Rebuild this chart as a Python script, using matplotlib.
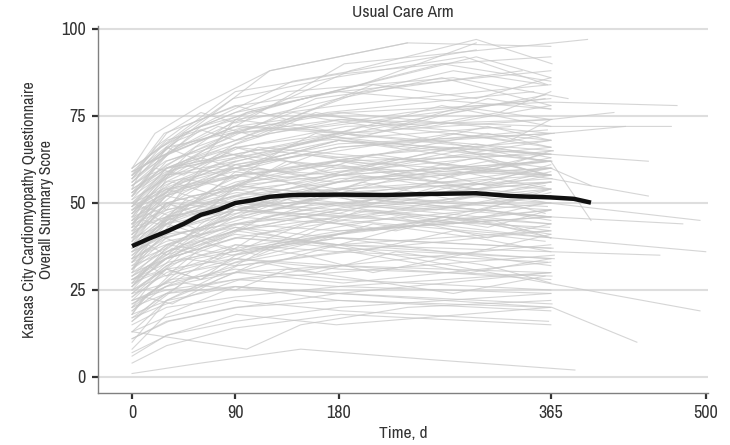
import matplotlib
matplotlib.use('Agg')
import matplotlib.pyplot as plt

plt.rcParams['font.family'] = ['Archivo Narrow', 'Lato', 'DejaVu Sans']

# follow-up visit days and KCCQ overall summary scores, one list per patient
visit_days = [
    [0, 30, 88, 175, 290, 362], [0, 35, 95, 190, 300, 366], [0, 28, 92, 180, 365],
    [0, 32, 90, 185, 368, 397], [0, 30, 85, 170, 360], [0, 29, 91, 182, 365, 470],
    [0, 31, 89, 178, 366], [0, 30, 93, 185, 364, 475], [0, 27, 90, 180, 362],
    [0, 30, 90, 176, 365], [0, 34, 92, 183, 367], [0, 30, 87, 179, 365],
    [0, 31, 90, 181, 363, 495], [0, 29, 94, 186, 366], [0, 30, 90, 180, 365],
    [0, 33, 88, 177, 361], [0, 30, 91, 184, 365], [0, 28, 90, 180, 368],
    [0, 30, 92, 182, 364], [0, 32, 89, 179, 365], [0, 30, 90, 181, 366],
    [0, 29, 93, 183, 362], [0, 31, 90, 178, 365], [0, 30, 87, 185, 367],
    [0, 30, 90, 180, 365, 500], [0, 34, 91, 182, 363], [0, 30, 90, 176, 365],
    [0, 27, 94, 184, 366], [0, 30, 90, 180, 364], [0, 31, 88, 181, 365],
    [0, 30, 92, 183, 368], [0, 29, 90, 179, 362, 495], [0, 32, 91, 182, 365],
    [0, 30, 89, 180, 366], [0, 30, 90, 185, 365], [0, 28, 93, 178, 363],
    [0, 31, 90, 181, 365], [0, 30, 87, 183, 367], [0, 30, 90, 180, 364],
    [0, 33, 92, 184, 365], [0, 30, 90, 179, 366, 440], [0, 29, 91, 182, 362],
    [0, 31, 89, 180, 365], [0, 30, 94, 176, 368], [0, 30, 90, 181, 365],
    [0, 28, 90, 183, 363], [0, 32, 92, 180, 366], [0, 60, 147, 260, 386],
    [0, 30, 88, 182, 365], [0, 31, 91, 178, 364], [0, 100, 147, 240, 365],
    [0, 45, 120, 240, 365], [0, 40, 110, 250, 365], [0, 50, 130, 260, 365],
    [0, 45, 125, 270, 365], [0, 42, 115, 230, 365], [0, 48, 120, 240, 365],
    [0, 45, 135, 280, 380], [0, 40, 100, 200, 300, 365], [0, 35, 100, 210, 320, 365],
    [0, 38, 105, 220, 330, 365], [0, 36, 100, 215, 310, 365], [0, 40, 95, 205, 300, 365],
    [0, 30, 90, 200, 290, 365], [0, 32, 94, 210, 305, 365], [0, 35, 98, 195, 315, 365],
    [0, 30, 92, 190, 295, 365], [0, 20, 60, 120, 240], [0, 25, 70, 140, 300],
    [0, 30, 80, 160, 340], [0, 30, 85, 170, 350], [0, 28, 80, 165, 330],
    [0, 30, 90], [0, 31, 89, 180], [0, 29, 92],
    [0, 30, 90, 181], [0, 28, 88, 182], [0, 30, 90, 180, 365, 450],
    [0, 30, 90, 180, 365, 480], [0, 30, 90, 180, 365, 460], [0, 30, 90, 180, 365, 430],
    [0, 30, 90, 180, 365, 400], [0, 30, 90, 180, 365], [0, 30, 90, 180, 365],
    [0, 30, 90, 180, 365], [0, 30, 90, 180, 365], [0, 30, 90, 180, 365],
    [0, 30, 90, 180, 365], [0, 30, 90, 180, 365], [0, 30, 90, 180, 365],
    [0, 30, 90, 180, 365], [0, 30, 90, 180, 365], [0, 30, 90, 180, 365],
    [0, 30, 90, 180, 365], [0, 30, 90, 180, 365], [0, 30, 90, 180, 365],
    [0, 30, 90, 180, 365], [0, 30, 90, 180, 365], [0, 30, 90, 180, 365],
    [0, 30, 90, 180, 365], [0, 30, 90, 180, 365], [0, 30, 90, 180, 365],
    [0, 60, 150, 270, 365],
    [0, 55, 140, 260, 365], [0, 65, 160, 280, 365], [0, 50, 150, 250, 365],
    [0, 60, 145, 265, 365], [0, 55, 155, 275, 365], [0, 14, 45, 90, 180, 365],
    [0, 14, 45, 90, 180, 365], [0, 14, 45, 90, 180, 365], [0, 14, 45, 90, 180, 365],
    [0, 14, 45, 90, 180, 365], [0, 14, 45, 90, 180, 365], [0, 14, 45, 90, 180, 365],
    [0, 90, 180, 270, 365], [0, 120, 240, 365], [0, 100, 200, 300],
    [0, 30, 90, 180, 365], [0, 30, 90, 180, 365],
    [0, 14, 30, 60, 90, 180, 270, 365], [0, 14, 30, 60, 90, 180, 270, 365],
    [0, 14, 30, 60, 90, 180, 270, 365], [0, 14, 30, 60, 90, 180, 270, 365],
    [0, 14, 30, 60, 90, 180, 270, 365], [0, 14, 30, 60, 90, 180, 270, 365],
    [0, 14, 30, 60, 90, 180, 270, 365], [0, 14, 30, 60, 90, 180, 270, 365],
    [0, 14, 30, 60, 90, 180, 270, 365], [0, 14, 30, 60, 90, 180, 270, 365],
    [0, 20, 45, 90, 135, 200, 280, 360], [0, 20, 45, 90, 135, 200, 280, 360],
    [0, 20, 45, 90, 135, 200, 280, 360], [0, 20, 45, 90, 135, 200, 280, 360],
    [0, 20, 45, 90, 135, 200, 280, 360], [0, 20, 45, 90, 135, 200, 280, 360],
    [0, 20, 45, 90, 135, 200, 280, 360], [0, 20, 45, 90, 135, 200, 280, 360],
    [0, 20, 45, 90, 135, 200, 280, 360], [0, 20, 45, 90, 135, 200, 280, 360],
    [0, 10, 35, 75, 110, 160, 230, 310, 365], [0, 10, 35, 75, 110, 160, 230, 310, 365],
    [0, 10, 35, 75, 110, 160, 230, 310, 365], [0, 10, 35, 75, 110, 160, 230, 310, 365],
    [0, 10, 35, 75, 110, 160, 230, 310, 365], [0, 10, 35, 75, 110, 160, 230, 310, 365],
    [0, 10, 35, 75, 110, 160, 230, 310, 365], [0, 10, 35, 75, 110, 160, 230, 310, 365],
    [0, 10, 35, 75, 110, 160, 230, 310, 365], [0, 10, 35, 75, 110, 160, 230, 310, 365],
    [0, 30, 60, 90, 150, 210, 300, 365, 420], [0, 30, 60, 90, 150, 210, 300, 365, 450],
    [0, 30, 60, 90, 150, 210, 300, 365, 400], [0, 30, 60, 90, 150, 210, 300, 365],
    [0, 30, 60, 90, 150, 210, 300, 365], [0, 30, 60, 90, 150, 210, 300, 365],
    [0, 30, 60, 90, 150, 210, 300, 365], [0, 30, 60, 90, 150, 210, 300, 365],
    [0, 30, 60, 90, 150, 210, 300, 365], [0, 30, 60, 90, 150, 210, 300, 365],
]
kccq_scores = [
    [60, 67, 80, 86, 92, 84], [59, 65, 74, 88, 97, 90], [58, 70, 78, 82, 77],
    [57, 64, 72, 90, 96, 97], [56, 66, 70, 72, 80], [55, 62, 68, 74, 72, 72],
    [54, 60, 64, 69, 62], [53, 61, 71, 76, 79, 78], [52, 58, 60, 66, 71],
    [51, 57, 66, 63, 68], [50, 55, 62, 70, 65], [49, 60, 64, 60, 58],
    [48, 53, 58, 61, 50, 45], [47, 56, 66, 72, 74], [46, 50, 55, 58, 54],
    [45, 54, 59, 56, 62], [44, 48, 53, 50, 46], [43, 52, 61, 67, 70],
    [42, 46, 50, 54, 58], [41, 50, 48, 45, 52], [40, 44, 51, 57, 60],
    [39, 47, 55, 52, 49], [38, 42, 47, 50, 44], [37, 45, 52, 59, 65],
    [36, 41, 44, 47, 40, 36], [35, 46, 50, 48, 54], [34, 39, 43, 40, 37],
    [33, 40, 46, 53, 57], [32, 36, 42, 46, 43], [31, 38, 35, 41, 48],
    [30, 34, 40, 37, 34], [29, 35, 41, 38, 27, 19], [28, 33, 37, 42, 46],
    [27, 31, 34, 31, 29], [26, 34, 40, 45, 40], [25, 29, 33, 38, 42],
    [24, 27, 31, 28, 25], [23, 30, 36, 40, 37], [22, 25, 28, 32, 30],
    [21, 28, 30, 27, 33], [20, 24, 26, 24, 20, 10], [19, 26, 32, 36, 33],
    [18, 22, 26, 22, 19], [17, 21, 28, 30, 35], [15, 20, 23, 26, 24],
    [13, 17, 22, 19, 16], [11, 16, 20, 24, 21], [1, 4, 8, 5, 2],
    [4, 9, 14, 18, 15], [7, 12, 18, 15, 20], [13, 8, 15, 20, 22],
    [50, 62, 70, 76, 80], [44, 56, 66, 62, 68], [38, 50, 60, 66, 64],
    [30, 40, 52, 58, 62], [22, 35, 46, 52, 56], [16, 28, 38, 44, 48],
    [56, 70, 82, 86, 80], [58, 68, 76, 84, 92, 86], [53, 66, 72, 70, 76, 82],
    [47, 60, 64, 72, 68, 74], [42, 54, 58, 64, 70, 66], [37, 48, 56, 60, 54, 58],
    [31, 42, 48, 46, 52, 50], [26, 38, 44, 50, 48, 54], [19, 30, 36, 42, 45, 40],
    [13, 22, 32, 36, 30, 34], [60, 70, 78, 88, 96], [57, 66, 74, 85, 94],
    [51, 62, 68, 80, 88], [46, 58, 70, 76, 82], [41, 55, 62, 68, 72],
    [48, 58, 62], [52, 64, 72, 70], [40, 52, 58],
    [34, 45, 50, 56], [26, 34, 42, 48], [50, 60, 66, 70, 64, 62],
    [33, 44, 48, 52, 46, 44], [28, 34, 40, 38, 36, 35], [44, 52, 60, 66, 70, 72],
    [48, 56, 60, 68, 62, 45], [39, 50, 55, 52, 60], [43, 46, 50, 58, 62],
    [47, 52, 48, 54, 56], [49, 54, 58, 62, 64], [34, 40, 46, 44, 50],
    [29, 38, 44, 50, 56], [24, 32, 38, 36, 42], [21, 26, 30, 32, 28],
    [17, 24, 28, 26, 30], [11, 16, 20, 22, 20], [6, 12, 16, 20, 24],
    [53, 59, 64, 70, 74], [56, 64, 72, 76, 70], [59, 68, 74, 78, 84],
    [45, 54, 62, 68, 64], [41, 48, 52, 56, 60], [37, 44, 54, 60, 66],
    [35, 42, 48, 52, 46], [31, 40, 46, 52, 48], [27, 36, 44, 42, 46],
    [55, 72, 80, 90, 85], [49, 66, 76, 72, 78], [43, 60, 64, 70, 66],
    [36, 52, 56, 62, 58], [28, 42, 50, 48, 54], [20, 34, 40, 46, 42],
    [52, 58, 62, 70, 74, 68], [44, 50, 56, 60, 58, 62], [38, 42, 50, 56, 62, 58],
    [32, 36, 40, 48, 46, 52], [25, 30, 38, 42, 48, 44], [18, 24, 30, 34, 32, 38],
    [57, 62, 70, 76, 82, 88], [60, 82, 87, 90, 92], [58, 88, 96, 95],
    [54, 76, 84, 96], [10, 22, 30, 38, 34], [8, 18, 26, 24, 30],
    [45, 52, 48, 60, 66, 58, 64, 70], [38, 44, 50, 46, 55, 62, 57, 63],
    [30, 38, 35, 44, 50, 47, 55, 52], [55, 58, 66, 62, 74, 70, 78, 72],
    [50, 48, 57, 63, 60, 68, 64, 60], [42, 47, 44, 52, 58, 54, 50, 56],
    [34, 40, 46, 42, 48, 56, 60, 54], [26, 32, 29, 37, 42, 38, 46, 41],
    [20, 26, 31, 28, 35, 40, 36, 32], [58, 63, 70, 76, 73, 80, 86, 78],
    [47, 55, 61, 57, 66, 72, 67, 62], [40, 46, 53, 60, 56, 50, 58, 64],
    [33, 41, 38, 46, 52, 58, 54, 47], [28, 30, 37, 43, 40, 48, 44, 50],
    [52, 60, 58, 67, 73, 69, 76, 81], [44, 51, 57, 54, 62, 60, 66, 58],
    [36, 39, 48, 52, 49, 56, 51, 55], [23, 29, 34, 32, 40, 36, 42, 39],
    [16, 22, 27, 25, 31, 28, 24, 29], [57, 66, 72, 78, 74, 82, 88, 84],
    [49, 53, 60, 65, 62, 70, 66, 72, 68], [43, 49, 46, 55, 60, 57, 63, 59, 65],
    [37, 41, 47, 51, 48, 54, 50, 56, 61], [31, 36, 42, 39, 45, 50, 47, 43, 48],
    [24, 27, 33, 38, 35, 42, 46, 40, 44], [54, 61, 65, 72, 69, 76, 72, 80, 77],
    [46, 50, 56, 52, 58, 64, 61, 55, 59], [39, 45, 43, 50, 54, 51, 57, 62, 58],
    [27, 31, 37, 34, 41, 45, 42, 48, 45], [18, 23, 21, 28, 33, 30, 36, 32, 27],
    [53, 60, 64, 68, 75, 72, 77, 74, 76], [45, 49, 55, 61, 58, 64, 60, 57, 52],
    [36, 44, 41, 48, 53, 50, 56, 60, 55], [29, 34, 39, 36, 44, 48, 45, 40],
    [22, 26, 32, 38, 35, 30, 36, 41], [59, 64, 71, 68, 76, 84, 80, 86],
    [41, 50, 47, 54, 50, 57, 63, 58], [33, 37, 43, 49, 46, 42, 48, 53],
    [48, 54, 51, 59, 64, 61, 67, 63], [25, 31, 28, 33, 38, 44, 40, 36],
]

# smoothed group mean
mean_days = [0, 15, 30, 45, 60, 75, 90, 105, 120, 140, 180, 220, 260, 300, 330, 365, 385, 400]
mean_scores = [37.6, 39.8, 41.8, 44.0, 46.6, 48.0, 50.0, 50.8, 51.8, 52.3, 52.4, 52.3,
               52.6, 52.8, 52.0, 51.6, 51.2, 50.1]

x_ticks = [0, 90, 180, 365, 500]
y_ticks = [0, 25, 50, 75, 100]

fig = plt.figure(figsize=(7.3, 4.45), dpi=100)
ax = fig.add_axes([98 / 730, 52 / 445, 610 / 730, 367.5 / 445])

for days, scores in zip(visit_days, kccq_scores):
    ax.plot(days, scores, color='#c8c8c8', lw=0.8, alpha=0.75, zorder=2)

ax.plot(mean_days, mean_scores, color='#111111', lw=3.2, solid_capstyle='butt', zorder=3)

ax.set_xlim(-29.7, 502)
ax.set_ylim(-4.6, 101)
ax.set_xticks(x_ticks)
ax.set_yticks(y_ticks)
ax.yaxis.grid(True, color='#dedede', lw=1.5, zorder=0)
ax.set_axisbelow(True)

for side in ['top', 'right']:
    ax.spines[side].set_visible(False)
for side in ['left', 'bottom']:
    ax.spines[side].set_color('#808080')
    ax.spines[side].set_linewidth(1.0)
ax.tick_params(length=4, width=1.6, color='#333333', labelsize=13,
               labelcolor='#333333', pad=5)

ax.set_title('Usual Care Arm', fontsize=12.5, color='#333333', pad=6)
ax.set_xlabel('Time, d', fontsize=12.5, color='#333333', labelpad=3)
ax.set_ylabel('Kansas City Cardiomyopathy Questionnaire\nOverall Summary Score',
              fontsize=11.5, color='#333333', labelpad=5, linespacing=1.15)

fig.savefig('out.png', dpi=100)
